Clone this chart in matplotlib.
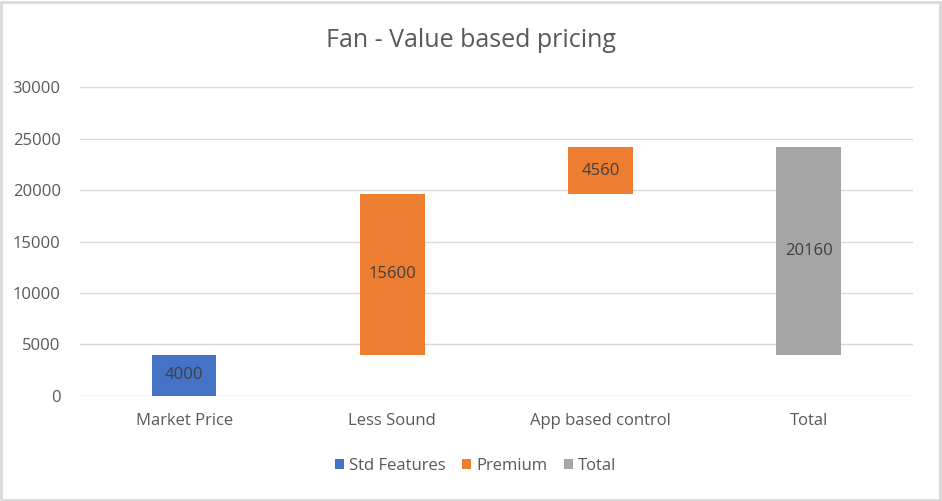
import matplotlib.pyplot as plt
import numpy as np
from matplotlib.patches import Rectangle

categories = ["Market Price", "Less Sound", "App based control", "Total"]
std_features = [4000, 0, 0, 0]
premium = [0, 15600, 4560, 0]
total = [0, 0, 0, 20160]

plt.rcParams["font.family"] = ["Open Sans", "DejaVu Sans"]
TXT = "#595959"

std = np.array(std_features)
prem = np.array(premium)
tot = np.array(total)
# waterfall offsets: premium steps stack on the running sum, total starts above market price
running = np.cumsum(std + prem) - (std + prem)
bottom_prem = running
bottom_tot = np.where(tot > 0, std.sum(), 0)

fig = plt.figure(figsize=(9.42, 5.01), dpi=100)
ax = fig.add_axes([0.085, 0.2096, 0.884, 0.6167])
x = np.arange(len(categories))
w = 0.31
ax.bar(x, std, w, color="#4472C4", label="Std Features", zorder=3)
ax.bar(x, prem, w, bottom=bottom_prem, color="#ED7D31", label="Premium", zorder=3)
ax.bar(x, tot, w, bottom=bottom_tot, color="#A5A5A5", label="Total", zorder=3)

for vals, bots in [(std, np.zeros_like(std)), (prem, bottom_prem), (tot, bottom_tot)]:
    for xi, v, b in zip(x, vals, bots):
        if v > 0:
            ax.text(xi, b + v / 2, f"{v}", ha="center", va="center", fontsize=12, color="#404040", zorder=4)

ax.set_xlim(-0.5, 3.5)
ax.set_ylim(0, 30000)
ax.set_yticks(range(0, 30001, 5000))
ax.grid(axis="y", color="#D9D9D9", lw=1, zorder=0)
for s in ax.spines.values():
    s.set_visible(False)
ax.tick_params(length=0, colors=TXT, labelsize=12)
ax.tick_params(axis="y", pad=14)
ax.tick_params(axis="x", pad=12)
ax.set_xticks(x)
ax.set_xticklabels(categories)

fig.text(0.5, 0.92, "Fan - Value based pricing", ha="center", va="center", fontsize=18, color=TXT)
fig.legend(loc="center", bbox_to_anchor=(0.505, 0.07), ncol=3, frameon=False, fontsize=12,
           handlelength=0.55, handleheight=0.55, handletextpad=0.3, columnspacing=1.0, labelcolor=TXT)
fig.add_artist(Rectangle((0.001, 0.002), 0.997, 0.995, transform=fig.transFigure, fill=False,
                         edgecolor="#D9D9D9", lw=2))
fig.savefig("out.png", dpi=100)
